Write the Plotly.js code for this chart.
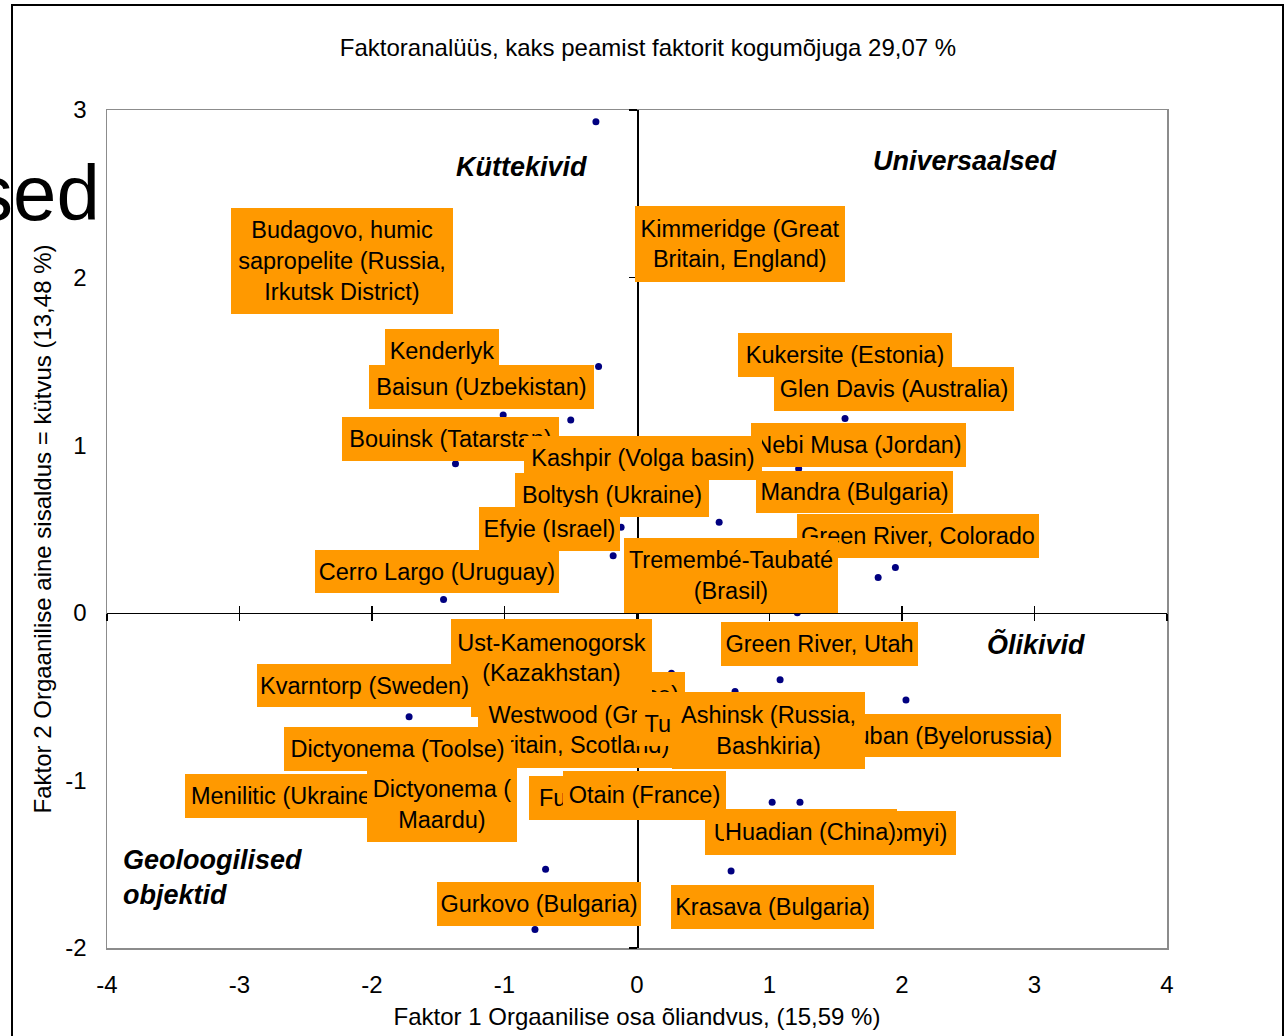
<!DOCTYPE html>
<html>
<head>
<meta charset="utf-8">
<script src="https://cdn.plot.ly/plotly-3.0.1.min.js"></script>
<style>
html,body{margin:0;padding:0;background:#fff;}
#chart{width:1287px;height:1036px;}
</style>
</head>
<body>
<div id="chart"></div>
<script>
// ---------- DATA ----------
const names = [
  "Budagovo, humic<br>sapropelite (Russia,<br>Irkutsk District)",
  "Kimmeridge (Great<br>Britain, England)",
  "Kenderlyk",
  "Baisun (Uzbekistan)",
  "Bouinsk (Tatarstan)",
  "Nebi Musa (Jordan)",
  "Kashpir (Volga basin)",
  "Boltysh (Ukraine)",
  "Efyie (Israel)",
  "Cerro Largo (Uruguay)",
  "Kukersite (Estonia)",
  "Glen Davis (Australia)",
  "Mandra (Bulgaria)",
  "Green River, Colorado",
  "Tremembé-Taubaté<br>(Brasil)",
  "Green River, Utah",
  "Timahdit (Morocco)",
  "Ust-Kamenogorsk<br>(Kazakhstan)",
  "Kvarntorp (Sweden)",
  "Westwood (Great<br>Britain, Scotland)",
  "Turov (Byelorussia)",
  "Lyuban (Byelorussia)",
  "Ashinsk (Russia,<br>Bashkiria)",
  "Dictyonema (Toolse)",
  "Menilitic (Ukraine)",
  "Dictyonema (<br>Maardu)",
  "Fushun (China)",
  "Otain (France)",
  "Ukhta (Russia, Komyi)",
  "Huadian (China)",
  "Gurkovo (Bulgaria)",
  "Krasava (Bulgaria)"
];
// Faktor 1 (x)
const f1 = [-0.31, 0.47, -0.29, -1.01, -1.37, 1.22, -0.50, -0.18, -0.12, -1.46,
            1.57, 2.21, 1.82, 1.95, 0.62, 1.21, 0.26, -0.58, -1.72, -0.58,
            0.74, 2.03, 1.08, -2.25, -2.92, -0.69, -0.28, 0.32, 1.23, 1.02,
            -0.77, 0.71];
// Faktor 2 (y)
const f2 = [2.93, 2.16, 1.47, 1.18, 0.89, 0.86, 1.15, 0.34, 0.51, 0.08,
            1.16, 1.30, 0.21, 0.27, 0.54, 0.00, -0.36, -0.22, -0.62, -0.76,
            -0.47, -0.52, -0.40, -0.82, -1.12, -1.53, -1.12, -1.06, -1.13, -1.13,
            -1.89, -1.54];

const xTickVals = [-4, -3, -2, -1, 0, 1, 2, 3, 4];
const xTickText = ["-4", "-3", "-2", "-1", "0", "1", "2", "3", "4"];
const yTickVals = [-2, -1, 0, 1, 2, 3];
const yTickText = ["-2", "-1", "0", "1", "2", "3"];

const quadrantText = ["Küttekivid", "Universaalsed", "Õlikivid", "Geoloogilised<br>objektid"];

// ---------- LAYOUT OF LABELS (box centres in axis units, box sizes in px) ----------
const labelX = [-2.230, 0.774, -1.475, -1.170, -1.411, 1.668, 0.049, -0.192, -0.657, -1.513,
                1.566, 1.943, 1.638, 2.117, 0.706, 1.374, -0.442, -0.642, -2.060, -0.434,
                0.826, 2.309, 0.996, -1.804, -2.660, -1.468, -0.125, 0.060, 1.464, 1.313,
                -0.743, 1.026];
const labelY = [2.099, 2.200, 1.562, 1.347, 1.037, 1.001, 0.924, 0.700, 0.500, 0.246,
                1.538, 1.335, 0.721, 0.458, 0.223, -0.186, -0.487, -0.270, -0.434, -0.699,
                -0.663, -0.732, -0.702, -0.813, -1.093, -1.144, -1.105, -1.084, -1.314, -1.308,
                -1.737, -1.753];
const labelW = [222, 210, 114, 225, 217, 215, 238, 194, 141, 244,
                214, 240, 197, 242, 214, 197, 214, 201, 215, 204,
                218, 237, 193, 227, 200, 150, 182, 163, 251, 173,
                204, 203];
const labelH = [106, 76, 44, 44, 44, 44, 44, 44, 44, 43,
                44, 44, 42, 44, 75, 44, 45, 78, 43, 76,
                44, 43, 77, 44, 44, 75, 44, 47, 44, 46,
                44, 44];
const quadX = [-0.868, 2.472, 3.008, -3.891];
const quadY = [2.66, 2.695, -0.19, -1.579];
const quadAnchor = ["center", "center", "center", "left"];

// ---------- BUILD ----------
const FONT = "Liberation Sans, Arial, sans-serif";
const ORANGE = "#FF9900";

const mainTrace = {
  x: f1, y: f2, type: "scatter", mode: "markers",
  marker: {color: "#000080", size: 7},
  text: names, hoverinfo: "text", showlegend: false, cliponaxis: false
};
function ghost(xa, ya) {
  return {x: f1, y: f2, xaxis: xa, yaxis: ya, type: "scatter", mode: "markers",
          marker: {size: 1, opacity: 0}, hoverinfo: "skip", showlegend: false};
}

const annotations = [];
for (let i = 0; i < names.length; i++) {
  annotations.push({
    x: f1[i], y: f2[i], xref: "x", yref: "y",
    ax: labelX[i], ay: labelY[i], axref: "x", ayref: "y",
    showarrow: true, arrowcolor: "rgba(0,0,0,0)", arrowwidth: 0.1, arrowhead: 0,
    text: names[i], align: "center",
    width: labelW[i], height: labelH[i],
    bgcolor: ORANGE, borderpad: 0, borderwidth: 0,
    font: {family: FONT, size: 23.5, color: "#000"}
  });
}
for (let i = 0; i < quadrantText.length; i++) {
  annotations.push({
    x: quadX[i], y: quadY[i], xref: "x", yref: "y", showarrow: false,
    text: quadrantText[i], xanchor: quadAnchor[i], yanchor: "middle", align: "left",
    font: {family: FONT, size: 27, color: "#000", weight: "bold", style: "italic"}
  });
}
// stray large fragment at left edge
annotations.push({
  x: -0.0047, y: 0.901, xref: "paper", yref: "paper", showarrow: false,
  text: "sed", xanchor: "right", yanchor: "middle",
  font: {family: FONT, size: 78, color: "#000"}
});

const axisBase = {range: [-4, 4], showgrid: false, zeroline: false, fixedrange: true};
const yBase = {range: [-2, 3], showgrid: false, zeroline: false, fixedrange: true};

const layout = {
  width: 1287, height: 1036,
  margin: {l: 107, r: 120, t: 110, b: 88, pad: 0},
  paper_bgcolor: "#fff", plot_bgcolor: "#fff",
  font: {family: FONT, size: 24, color: "#000"},
  showlegend: false,
  title: {
    text: "Faktoranalüüs, kaks peamist faktorit kogumõjuga 29,07 %",
    xref: "container", x: 0.5035, xanchor: "center",
    yref: "container", y: 1 - 48 / 1036, yanchor: "middle",
    font: {family: FONT, size: 24, color: "#000"}
  },
  xaxis: Object.assign({}, axisBase, {
    tickmode: "array", tickvals: xTickVals, ticktext: xTickText,
    ticks: "", ticklabelstandoff: 15,
    showline: true, linecolor: "#8c8c8c", linewidth: 1.5, mirror: true,
    tickfont: {family: FONT, size: 24, color: "#000"},
    title: {text: "Faktor 1 Orgaanilise osa õliandvus, (15,59 %)", standoff: 11,
            font: {family: FONT, size: 24, color: "#000"}}
  }),
  yaxis: Object.assign({}, yBase, {
    tickmode: "array", tickvals: yTickVals, ticktext: yTickText,
    ticks: "", ticklabelstandoff: 14,
    showline: true, linecolor: "#8c8c8c", linewidth: 1.5, mirror: true,
    tickfont: {family: FONT, size: 24, color: "#000"},
    title: {text: "Faktor 2 Orgaanilise aine sisaldus = kütvus (13,48 %)", standoff: 7,
            font: {family: FONT, size: 24, color: "#000"}}
  }),
  xaxis2: Object.assign({}, axisBase, {
    overlaying: "x", anchor: "free", position: 0.4,
    tickmode: "array", tickvals: xTickVals, showticklabels: false,
    showline: true, linecolor: "#000", linewidth: 1.5,
    ticks: "outside", ticklen: 7, tickwidth: 1.5, tickcolor: "#000"
  }),
  xaxis3: Object.assign({}, axisBase, {
    overlaying: "x", anchor: "free", position: 0.4,
    tickmode: "array", tickvals: xTickVals, showticklabels: false,
    showline: false,
    ticks: "inside", ticklen: 7, tickwidth: 1.5, tickcolor: "#000"
  }),
  yaxis2: Object.assign({}, yBase, {
    overlaying: "y", anchor: "free", position: 0.5,
    tickmode: "array", tickvals: yTickVals, showticklabels: false,
    showline: true, linecolor: "#000", linewidth: 1.5,
    ticks: "outside", ticklen: 8, tickwidth: 1.5, tickcolor: "#000"
  }),
  yaxis3: Object.assign({}, yBase, {
    overlaying: "y", anchor: "free", position: 0.5, side: "left",
    tickmode: "array", tickvals: yTickVals, showticklabels: false,
    showline: false,
    ticks: "inside", ticklen: 8, tickwidth: 1.5, tickcolor: "#000"
  }),
  shapes: [{
    type: "rect", xref: "paper", yref: "paper",
    x0: (12 - 107) / 1060, x1: (1283 - 107) / 1060,
    y0: 1 - (1045 - 110) / 838, y1: 1 - (5 - 110) / 838,
    line: {color: "#000", width: 2}, fillcolor: "rgba(0,0,0,0)", layer: "below"
  }],
  annotations: annotations
};

Plotly.newPlot("chart",
  [ghost("x2", "y"), ghost("x3", "y"), ghost("x", "y2"), ghost("x", "y3"), mainTrace],
  layout, {displayModeBar: false, staticPlot: true});
</script>
</body>
</html>
